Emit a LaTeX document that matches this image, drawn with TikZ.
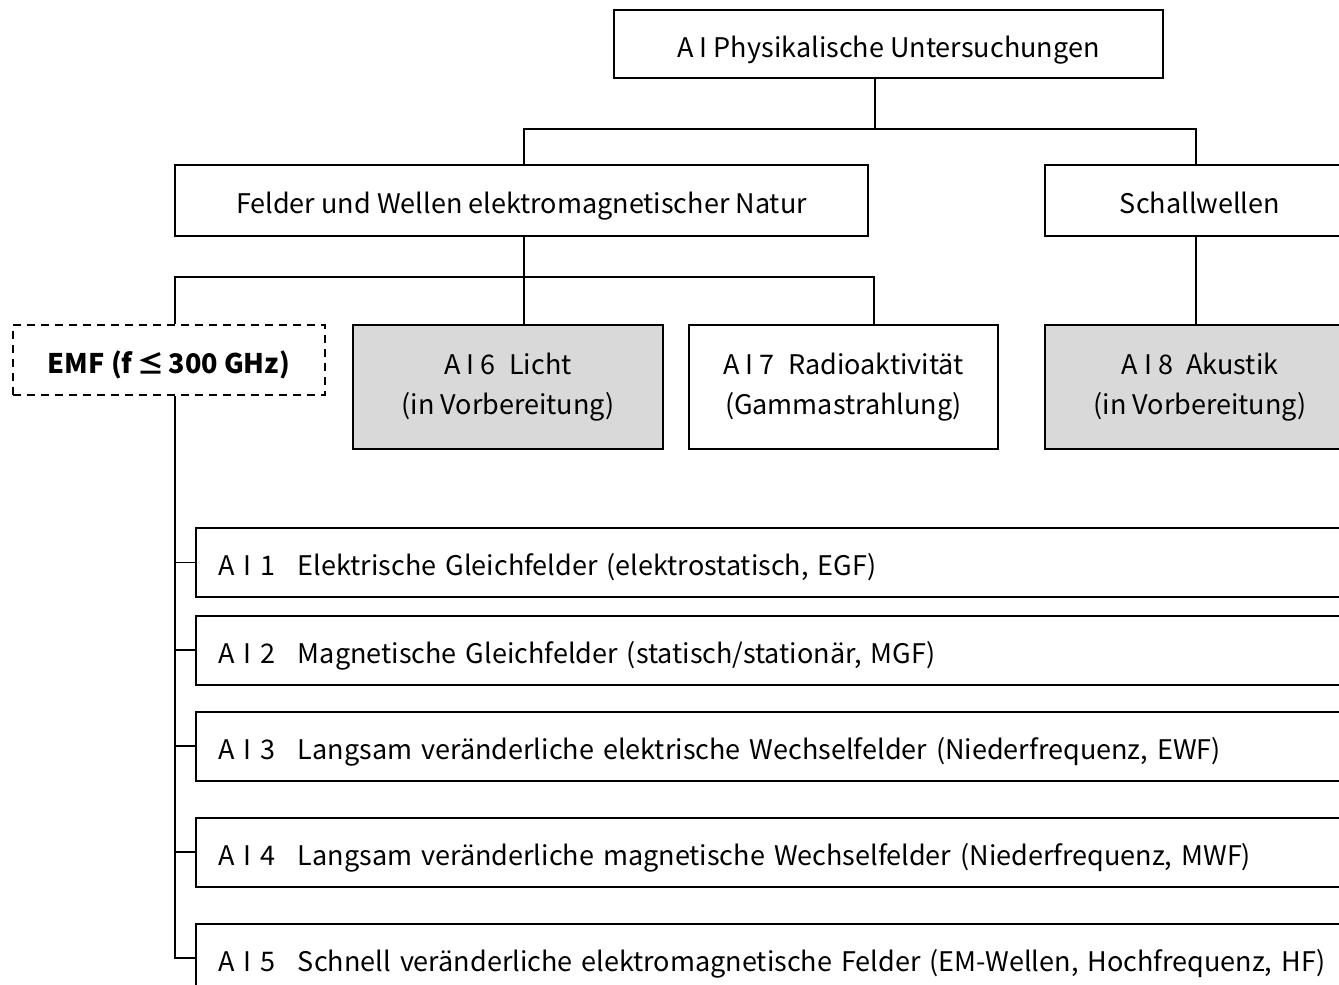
\documentclass[tikz,border=0pt]{standalone}
\usepackage{fontspec}
\setmainfont{Noto Sans CJK JP}
\usetikzlibrary{positioning}
\definecolor{pend}{HTML}{D9D9D9}
\tikzset{
  box/.style={draw,line width=1pt,fill=white,align=center,inner sep=0pt},
  gbox/.style={box,fill=pend},
  sbox/.style={box,text height=16pt,text depth=3pt},
  dbox/.style={sbox,dash pattern=on 4pt off 3pt,font=\fontsize{13.5}{20}\selectfont\bfseries},
  lbox/.style={sbox,anchor=west,align=left,text width=578pt,inner xsep=11pt,minimum height=34.5pt},
  ln/.style={line width=1pt},
}
\newcommand{\aicode}[1]{\makebox[40pt][l]{#1}}

\begin{document}
\begin{tikzpicture}[x=0.5pt,y=-0.5pt,font=\fontsize{13.5}{20}\selectfont]
\useasboundingbox (0,0) rectangle (1339,985);
\clip (0,0) rectangle (1339,985);
% top levels
\node[sbox,minimum width=274.5pt,minimum height=34pt] (top) at (888.5,44) {A I Physikalische Untersuchungen};
\node[sbox,minimum width=346.5pt,minimum height=35.5pt] (felder) at (521.5,200.5) {Felder und Wellen elektromagnetischer Natur};
\node[sbox,minimum width=155pt,minimum height=35.5pt] (schall) at (1200,200.5) {Schallwellen};
\node[dbox,minimum width=156pt,minimum height=35pt] (emf) at (169,360) {EMF (f\,≤\,300 GHz)};
\node[gbox,minimum width=155pt,minimum height=62pt] (licht) at (508,387) {A I 6\enspace Licht\\(in Vorbereitung)};
\node[box,minimum width=154.5pt,minimum height=62pt] (radio) at (843.5,387) {A I 7\enspace Radioaktivität\\(Gammastrahlung)};
\node[gbox,minimum width=155pt,minimum height=62pt] (akustik) at (1200,387) {A I 8\enspace Akustik\\(in Vorbereitung)};
% EMF list
\node[lbox] (a1) at (195,562) {\aicode{A I 1}Elektrische Gleichfelder (elektrostatisch, EGF)};
\node[lbox] (a2) at (195,650) {\aicode{A I 2}Magnetische Gleichfelder (statisch/stationär, MGF)};
\node[lbox] (a3) at (195,746) {\aicode{A I 3}Langsam veränderliche elektrische Wechselfelder (Niederfrequenz, EWF)};
\node[lbox] (a4) at (195,852) {\aicode{A I 4}Langsam veränderliche magnetische Wechselfelder (Niederfrequenz, MWF)};
\node[lbox] (a5) at (195,958) {\aicode{A I 5}Schnell veränderliche elektromagnetische Felder (EM-Wellen, Hochfrequenz, HF)};
% connectors
\coordinate (j1) at (875,129);
\coordinate (j2) at (524,277);
\coordinate (xs) at (1196,0);
\coordinate (xe) at (175,0);
\coordinate (xr) at (874,0);
\draw[ln] (top.south -| j1) -- (j1);
\draw[ln] (felder.north -| j2) -- (j2 |- j1) -- (xs |- j1) -- (schall.north -| xs);
\draw[ln] (felder.south -| j2) -- (licht.north -| j2);
\draw[ln] (emf.north -| xe) -- (xe |- j2) -- (xr |- j2) -- (radio.north -| xr);
\draw[ln] (schall.south -| xs) -- (akustik.north -| xs);
\draw[ln] (emf.south -| xe) |- (a5.west);
\draw[line width=0.5pt] (xe |- a1.west) -- (a1.west);
\foreach \i in {2,...,4} \draw[ln] (xe |- a\i.west) -- (a\i.west);
\end{tikzpicture}
\end{document}
